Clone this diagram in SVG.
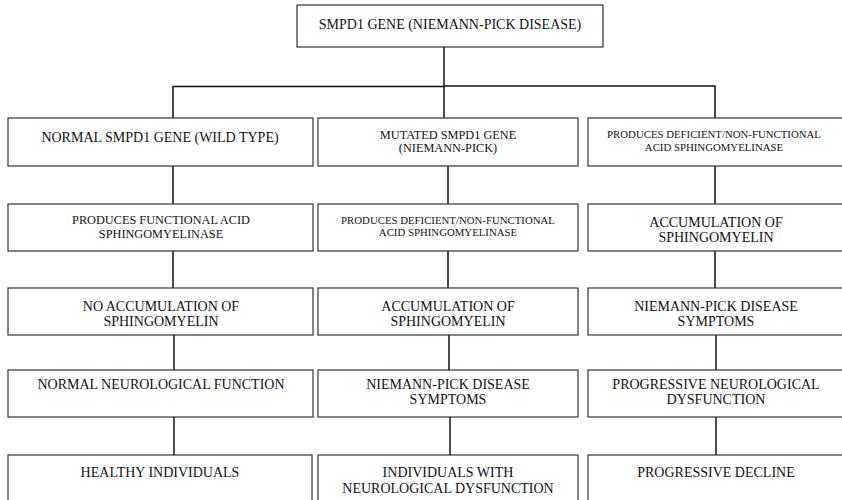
<svg xmlns="http://www.w3.org/2000/svg" width="842" height="500" viewBox="0 0 842 500">
<style>
.box{fill:#fff;stroke:#333;stroke-width:1.2}
.t{font-family:'Liberation Serif','Times New Roman','DejaVu Serif',serif;fill:#111;text-anchor:middle}
.l{font-size:14px}
.m{font-size:12.3px}
.s{font-size:10.8px}
.c{stroke:#111;stroke-width:1.5;fill:none}
</style>
<rect width="842" height="500" fill="#fff"/>
<g id="connectors">
<path class="c" d="M444 47V86"/>
<path class="c" d="M173 118V86.5H444M444 86H715V118"/>
<path class="c" d="M444 86V118"/>
<path class="c" d="M173 166V204M448 166V204M715 166V204"/>
<path class="c" d="M173 251V288M448 251V288M715 251V288"/>
<path class="c" d="M174 335V370M449 335V370M716 335V370"/>
<path class="c" d="M174 417V455M450 417V455M716 417V455"/>
</g>
<g font-family="Liberation Serif, Times New Roman, serif">
<g id="root"><rect class="box" x="297" y="5" width="306" height="42"/><text class="t l" x="450" y="29">SMPD1 GENE (NIEMANN-PICK DISEASE)</text></g>
<g id="c1r1"><rect class="box" x="8" y="118" width="305" height="48"/><text class="t l" x="160" y="142">NORMAL SMPD1 GENE (WILD TYPE)</text></g>
<g id="c2r1"><rect class="box" x="318" y="118" width="260" height="48"/><text class="t m" x="448" y="139">MUTATED SMPD1 GENE</text><text class="t m" x="448" y="152">(NIEMANN-PICK)</text></g>
<g id="c3r1"><rect class="box" x="588" y="118" width="262" height="48"/><text class="t s" x="714" y="138">PRODUCES DEFICIENT/NON-FUNCTIONAL</text><text class="t s" x="714" y="151">ACID SPHINGOMYELINASE</text></g>
<g id="c1r2"><rect class="box" x="8" y="204" width="305" height="47"/><text class="t m" x="161" y="224">PRODUCES FUNCTIONAL ACID</text><text class="t m" x="161" y="238">SPHINGOMYELINASE</text></g>
<g id="c2r2"><rect class="box" x="318" y="204" width="260" height="47"/><text class="t s" x="448" y="224">PRODUCES DEFICIENT/NON-FUNCTIONAL</text><text class="t s" x="448" y="236">ACID SPHINGOMYELINASE</text></g>
<g id="c3r2"><rect class="box" x="588" y="204" width="262" height="47"/><text class="t l" x="716" y="227">ACCUMULATION OF</text><text class="t l" x="716" y="242">SPHINGOMYELIN</text></g>
<g id="c1r3"><rect class="box" x="8" y="288" width="305" height="47"/><text class="t l" x="161" y="311">NO ACCUMULATION OF</text><text class="t l" x="161" y="326">SPHINGOMYELIN</text></g>
<g id="c2r3"><rect class="box" x="318" y="288" width="260" height="47"/><text class="t l" x="448" y="311">ACCUMULATION OF</text><text class="t l" x="448" y="326">SPHINGOMYELIN</text></g>
<g id="c3r3"><rect class="box" x="588" y="288" width="262" height="47"/><text class="t l" x="716" y="311">NIEMANN-PICK DISEASE</text><text class="t l" x="716" y="326">SYMPTOMS</text></g>
<g id="c1r4"><rect class="box" x="8" y="370" width="305" height="47"/><text class="t l" x="161" y="389">NORMAL NEUROLOGICAL FUNCTION</text></g>
<g id="c2r4"><rect class="box" x="318" y="370" width="260" height="47"/><text class="t l" x="448" y="389">NIEMANN-PICK DISEASE</text><text class="t l" x="448" y="404">SYMPTOMS</text></g>
<g id="c3r4"><rect class="box" x="588" y="370" width="262" height="47"/><text class="t l" x="716" y="389">PROGRESSIVE NEUROLOGICAL</text><text class="t l" x="716" y="404">DYSFUNCTION</text></g>
<g id="c1r5"><rect class="box" x="8" y="455" width="304" height="60"/><text class="t l" x="160" y="477">HEALTHY INDIVIDUALS</text></g>
<g id="c2r5"><rect class="box" x="318" y="455" width="260" height="60"/><text class="t l" x="448" y="477">INDIVIDUALS WITH</text><text class="t l" x="448" y="493">NEUROLOGICAL DYSFUNCTION</text></g>
<g id="c3r5"><rect class="box" x="588" y="455" width="262" height="60"/><text class="t l" x="716" y="477">PROGRESSIVE DECLINE</text></g>
</g>
</svg>
